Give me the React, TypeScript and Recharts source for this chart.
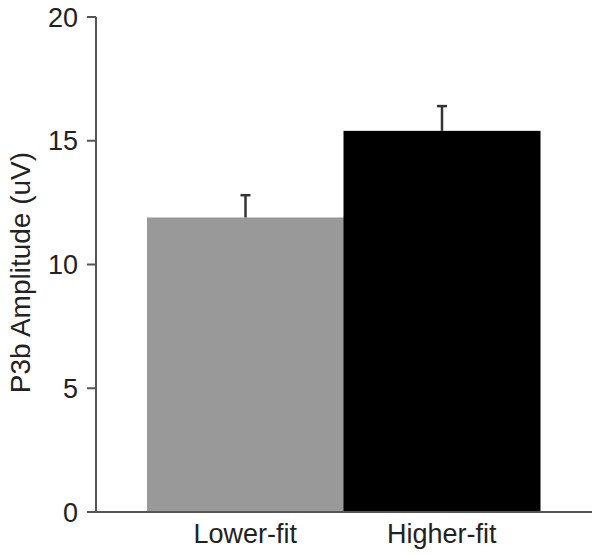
import { Bar, BarChart, Cell, XAxis, YAxis } from "recharts";

const groups = ["Lower-fit", "Higher-fit"];
const amplitude = [11.9, 15.4];
const errorUp = [0.9, 1.0];
const yTicks = [0, 5, 10, 15, 20];

const barColors = ["#999999", "#000000"];
const axisColor = "#555555";
const font = "'Liberation Sans', Arial, sans-serif";

const data = groups.map((group, i) => ({
  group,
  amplitude: amplitude[i],
  error: errorUp[i],
}));

// bar plus a one-sided (upward) error whisker
function BarWithError(props: any) {
  const { x, y, width, height, fill, payload } = props;
  const perUnit = height / payload.amplitude;
  const top = y - payload.error * perUnit;
  const cx = x + width / 2;

  return (
    <g>
      <rect x={x} y={y} width={width} height={height} fill={fill} />
      <line x1={cx} x2={cx} y1={y} y2={top} stroke="#333" strokeWidth={2.5} />
      <line x1={cx - 5} x2={cx + 5} y1={top} y2={top} stroke="#333" strokeWidth={2.5} />
    </g>
  );
}

export default function App() {
  return (
    <div style={{ position: "absolute", left: 0, top: 0, background: "#fff" }}>
      <BarChart
        width={601}
        height={554}
        data={data}
        barCategoryGap={0}
        margin={{ top: 17, right: 9, left: 0, bottom: 0 }}
      >
        <XAxis
          dataKey="group"
          height={42}
          padding={{ left: 51, right: 52 }}
          axisLine={{ stroke: axisColor, strokeWidth: 2 }}
          tickLine={false}
          tickSize={0}
          tickMargin={12}
          tick={{ fontSize: 27, fill: "#222", fontFamily: font }}
        />
        <XAxis
          xAxisId="frame"
          type="number"
          domain={[0, 1]}
          ticks={[1]}
          mirror
          height={0}
          axisLine={false}
          tick={false}
          tickSize={9}
          tickLine={{ stroke: axisColor, strokeWidth: 2 }}
        />
        <YAxis
          width={96}
          domain={[0, 20]}
          ticks={yTicks}
          axisLine={{ stroke: axisColor, strokeWidth: 2 }}
          tickLine={{ stroke: axisColor, strokeWidth: 2 }}
          tickSize={9}
          tickMargin={9}
          tick={{ fontSize: 27, fill: "#222", fontFamily: font }}
          label={{
            value: "P3b Amplitude (uV)",
            angle: -90,
            position: "center",
            dx: -28,
            dy: 8,
            style: { fontSize: 28, fill: "#222", fontFamily: font },
          }}
        />
        <Bar dataKey="amplitude" shape={BarWithError} isAnimationActive={false}>
          {data.map((d, i) => (
            <Cell key={d.group} fill={barColors[i]} />
          ))}
        </Bar>
      </BarChart>
    </div>
  );
}
